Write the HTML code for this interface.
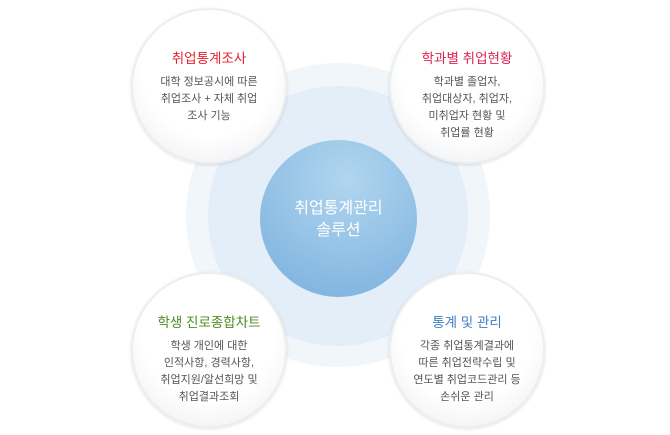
<!DOCTYPE html>
<html><head><meta charset="utf-8"><style>
body{margin:0;width:670px;height:435px;background:#fff;position:relative;overflow:hidden;font-family:"Liberation Sans","Noto Sans CJK KR",sans-serif}
.c{position:absolute;border-radius:50%}
.s{width:156px;height:156px;background:radial-gradient(circle at 50% 40%,#fff 55%,#f3f4f6 80%,#e6e8eb 100%);border:2px solid #eceef0;box-shadow:0 1px 3px rgba(0,0,0,.12);text-align:center;box-sizing:border-box}
.t{font-size:13.5px;margin-top:37px;margin-bottom:7px}
.b{font-size:11px;color:#555;line-height:17px}
</style></head><body>
<div class="c" style="left:186px;top:63px;width:304px;height:304px;background:#f1f6fb"></div>
<div class="c" style="left:208px;top:86px;width:260px;height:260px;background:#e4eef8"></div>
<div class="c" style="left:260px;top:140px;width:157px;height:157px;background:radial-gradient(circle at 55% 25%,#b0d6ef 0%,#95c2e6 50%,#78aedc 100%)"></div>
<div style="position:absolute;left:260px;top:198px;width:157px;text-align:center;color:#fff;font-size:16px;line-height:22px">취업통계관리<br>솔루션</div>

<div class="c s" style="left:131px;top:8px"><div class="t" style="color:#e8222c">취업통계조사</div><div class="b">대학 정보공시에 따른<br>취업조사 + 자체 취업<br>조사 기능</div></div>
<div class="c s" style="left:389px;top:8px"><div class="t" style="color:#dc2455">학과별 취업현황</div><div class="b">학과별 졸업자,<br>취업대상자, 취업자,<br>미취업자 현황 및<br>취업률 현황</div></div>
<div class="c s" style="left:131px;top:272px"><div class="t" style="color:#4d8a1f">학생 진로종합차트</div><div class="b">학생 개인에 대한<br>인적사항, 경력사항,<br>취업지원/알선희망 및<br>취업결과조회</div></div>
<div class="c s" style="left:389px;top:272px"><div class="t" style="color:#3d7fc6">통계 및 관리</div><div class="b">각종 취업통계결과에<br>따른 취업전략수립 및<br>연도별 취업코드관리 등<br>손쉬운 관리</div></div>
</body></html>
